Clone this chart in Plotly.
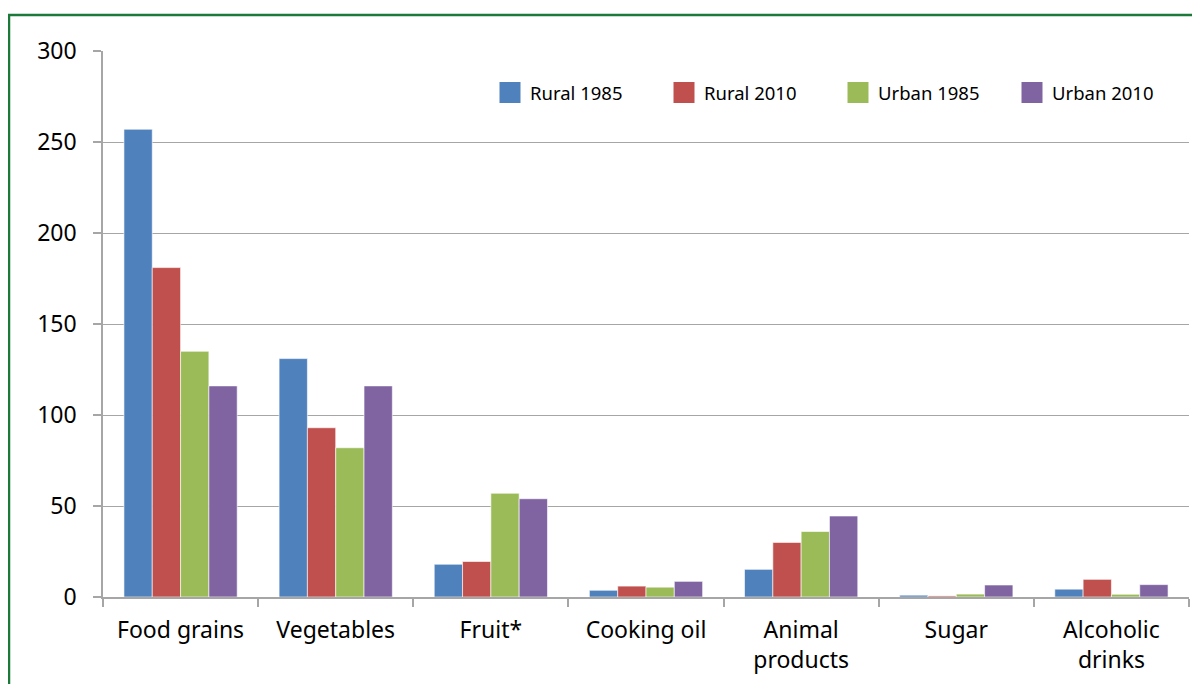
import plotly.graph_objects as go

categories = ["Food grains", "Vegetables", "Fruit*", "Cooking oil", "Animal<br>products", "Sugar", "Alcoholic<br>drinks"]
series_names = ["Rural 1985", "Rural 2010", "Urban 1985", "Urban 2010"]
rural_1985 = [257, 131, 18, 3.7, 15.2, 1.0, 4.3]
rural_2010 = [181, 93, 19.5, 6.0, 30.0, 0.6, 9.7]
urban_1985 = [135, 82, 57, 5.4, 36.0, 1.6, 1.5]
urban_2010 = [116, 116, 54, 8.6, 44.5, 6.6, 6.8]
colors = ["#4F81BD", "#C0504D", "#9BBB59", "#8064A2"]
y_ticks = [0, 50, 100, 150, 200, 250, 300]

FONT = "Noto Sans"

fig = go.Figure()
for name, vals, col in zip(series_names, [rural_1985, rural_2010, urban_1985, urban_2010], colors):
    fig.add_trace(go.Bar(
        x=categories, y=vals, name=name, legendgroup=name, showlegend=False,
        marker=dict(color=col, line=dict(color="rgba(255,255,255,0.6)", width=1)),
    ))
# legend-only entries (larger square swatches)
for name, col in zip(series_names, colors):
    fig.add_trace(go.Scatter(
        x=[categories[0]], y=[None], name=name, legendgroup=name, mode="markers",
        marker=dict(symbol="square", color=col, size=16, line=dict(color=col, width=5)),
        hoverinfo="skip",
    ))

W, H = 1200, 684
OFF = 8  # page body margin
L, R, T, B = 95, 19, 43, 95
pw, ph = W - L - R, H - T - B

def px_x(sx):
    return (sx - OFF - L) / pw

def px_y(sy):
    return (H - B - (sy - OFF)) / ph

fig.update_layout(
    width=W, height=H,
    margin=dict(l=L, r=R, t=T, b=B),
    paper_bgcolor="white", plot_bgcolor="white",
    barmode="group", bargap=0.27, bargroupgap=0,
    font=dict(family=FONT, size=23, color="black"),
    showlegend=True,
    legend=dict(
        orientation="h", x=px_x(490), y=px_y(93), xanchor="left", yanchor="middle",
        font=dict(family=FONT, size=18.5, color="black"),
        bgcolor="rgba(0,0,0,0)", traceorder="normal",
        itemwidth=30, entrywidth=129, entrywidthmode="pixels",
    ),
    xaxis=dict(
        showline=True, linecolor="#A6A6A6", linewidth=1.5,
        ticks="outside", tickson="boundaries", ticklen=8, tickcolor="#A6A6A6", tickwidth=1.5,
        tickfont=dict(family=FONT, size=23, color="black"),
        showgrid=False, ticklabelstandoff=12,
    ),
    yaxis=dict(
        range=[0, 300], tickvals=y_ticks, ticktext=[str(v) for v in y_ticks],
        showline=True, linecolor="#A6A6A6", linewidth=1.5,
        ticks="outside", ticklen=8, tickcolor="#A6A6A6", tickwidth=1.5,
        showgrid=True, gridcolor="#A6A6A6", gridwidth=1,
        zeroline=False,
        tickfont=dict(family=FONT, size=23, color="black"),
        ticklabelstandoff=12,
    ),
    shapes=[dict(
        type="rect", xref="paper", yref="paper", layer="above",
        x0=px_x(9), x1=px_x(1230), y0=px_y(720), y1=px_y(15),
        line=dict(color="#1B7A3A", width=2.5), fillcolor="rgba(0,0,0,0)",
    )],
)

fig.write_html("out.html")
